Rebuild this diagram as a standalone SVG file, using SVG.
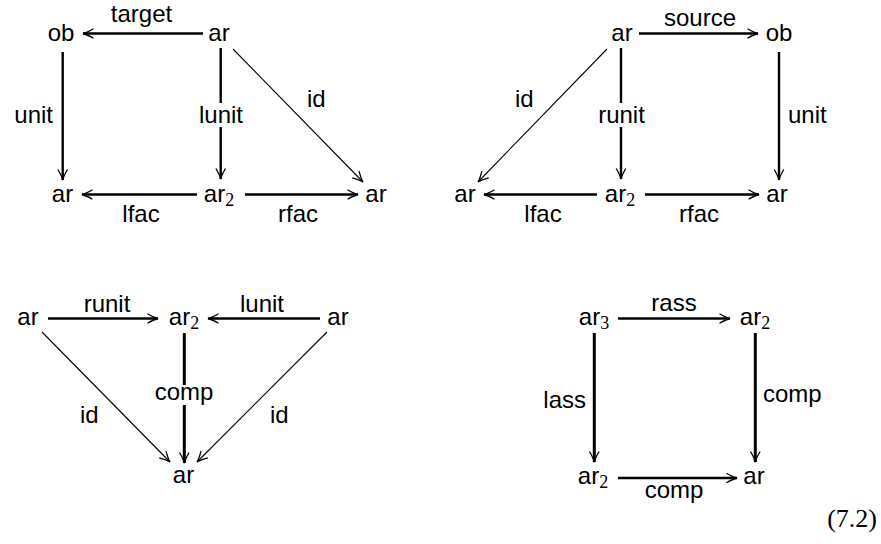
<svg xmlns="http://www.w3.org/2000/svg" width="881" height="544" viewBox="0 0 881 544">
<style>
  .t { font-family: "Liberation Sans", Arial, sans-serif; font-size: 24px; fill: #000; }
  .m { text-anchor: middle; }
  .e { text-anchor: end; }
  .sub { font-family: "Liberation Serif", "Times New Roman", serif; font-size: 18px; }
  .eq { font-family: "Liberation Serif", "Times New Roman", serif; font-size: 26px; fill: #000; text-anchor: end; }
  .h { stroke: #000; stroke-width: 2.4; fill: none; }
  .v { stroke: #000; stroke-width: 2.4; fill: none; }
  .vb { stroke: #000; stroke-width: 3; fill: none; }
  .d { stroke: #000; stroke-width: 1.1; fill: none; }
  .arr { marker-end: url(#ah); }
</style>
<defs>
  <marker id="ah" markerUnits="userSpaceOnUse" markerWidth="14" markerHeight="12" viewBox="-12 -6 14 12" refX="0" refY="0" orient="auto" overflow="visible">
    <path d="M-10.5,-4.8 Q-4,-1 0,0 Q-4,1 -10.5,4.8" fill="none" stroke="#000" stroke-width="1.3"/>
  </marker>
</defs>
<rect width="881" height="544" fill="#fff"/>

<g id="connectors">
  <!-- diagram 1 -->
  <line class="h arr" x1="203" y1="33.5" x2="83" y2="33.5"/>
  <line class="v arr" x1="62.7" y1="52" x2="62.7" y2="180"/>
  <line class="v" x1="220.7" y1="48" x2="220.7" y2="103"/>
  <line class="v arr" x1="220.7" y1="127" x2="220.7" y2="179"/>
  <line class="d arr" x1="233" y1="49" x2="363" y2="182"/>
  <line class="h arr" x1="197" y1="194.5" x2="82" y2="194.5"/>
  <line class="h arr" x1="245" y1="194.5" x2="358" y2="194.5"/>
  <!-- diagram 2 -->
  <line class="h arr" x1="639" y1="33.5" x2="758" y2="33.5"/>
  <line class="d arr" x1="607" y1="49" x2="478" y2="182"/>
  <line class="v" x1="621" y1="48" x2="621" y2="103"/>
  <line class="v arr" x1="621" y1="127" x2="621" y2="179"/>
  <line class="v arr" x1="779" y1="52" x2="779" y2="180"/>
  <line class="h arr" x1="597" y1="194.5" x2="484" y2="194.5"/>
  <line class="h arr" x1="645" y1="194.5" x2="759" y2="194.5"/>
  <!-- diagram 3 -->
  <line class="h arr" x1="48" y1="318.5" x2="158" y2="318.5"/>
  <line class="h arr" x1="320" y1="318.5" x2="208" y2="318.5"/>
  <line class="vb" x1="184.3" y1="333" x2="184.3" y2="385"/>
  <line class="vb arr" x1="184.3" y1="405" x2="184.3" y2="463"/>
  <line class="d arr" x1="42" y1="332" x2="170" y2="462"/>
  <line class="d arr" x1="327" y1="332" x2="197" y2="462"/>
  <!-- diagram 4 -->
  <line class="h arr" x1="618" y1="318.5" x2="730" y2="318.5"/>
  <line class="vb arr" x1="594.3" y1="333" x2="594.3" y2="462"/>
  <line class="vb arr" x1="755.3" y1="333" x2="755.3" y2="462"/>
  <line class="h arr" x1="618" y1="478" x2="737" y2="478"/>
</g>

<g id="edge-labels">
  <text class="t m" x="141.5" y="22">target</text>
  <text class="t e" x="53" y="123">unit</text>
  <text class="t m" x="221" y="123">lunit</text>
  <text class="t" x="307" y="107">id</text>
  <text class="t m" x="141" y="222">lfac</text>
  <text class="t m" x="298" y="222">rfac</text>

  <text class="t m" x="700" y="26">source</text>
  <text class="t" x="515" y="107">id</text>
  <text class="t m" x="621.5" y="123">runit</text>
  <text class="t" x="788" y="123">unit</text>
  <text class="t m" x="543" y="222">lfac</text>
  <text class="t m" x="699" y="222">rfac</text>

  <text class="t m" x="107" y="312">runit</text>
  <text class="t m" x="262" y="312">lunit</text>
  <text class="t m" x="184" y="400">comp</text>
  <text class="t" x="80" y="423">id</text>
  <text class="t" x="270" y="423">id</text>

  <text class="t m" x="674" y="311">rass</text>
  <text class="t e" x="586" y="408">lass</text>
  <text class="t" x="763" y="402">comp</text>
  <text class="t m" x="674" y="498">comp</text>
</g>

<g id="d1-ob"><text class="t m" x="61" y="41">ob</text></g>
<g id="d1-ar-top"><text class="t m" x="219" y="41">ar</text></g>
<g id="d1-ar-left"><text class="t m" x="62.5" y="202">ar</text></g>
<g id="d1-ar2"><text class="t m" x="219" y="202">ar<tspan class="sub" dy="4">2</tspan></text></g>
<g id="d1-ar-right"><text class="t m" x="376" y="202">ar</text></g>

<g id="d2-ar-top"><text class="t m" x="622" y="41">ar</text></g>
<g id="d2-ob"><text class="t m" x="779" y="41">ob</text></g>
<g id="d2-ar-left"><text class="t m" x="465" y="202">ar</text></g>
<g id="d2-ar2"><text class="t m" x="620" y="202">ar<tspan class="sub" dy="4">2</tspan></text></g>
<g id="d2-ar-right"><text class="t m" x="777" y="202">ar</text></g>

<g id="d3-ar-left"><text class="t m" x="28" y="325">ar</text></g>
<g id="d3-ar2"><text class="t m" x="184" y="325">ar<tspan class="sub" dy="4">2</tspan></text></g>
<g id="d3-ar-right"><text class="t m" x="338" y="325">ar</text></g>
<g id="d3-ar-bottom"><text class="t m" x="183.5" y="483">ar</text></g>

<g id="d4-ar3"><text class="t m" x="594" y="325">ar<tspan class="sub" dy="4">3</tspan></text></g>
<g id="d4-ar2-top"><text class="t m" x="755" y="325">ar<tspan class="sub" dy="4">2</tspan></text></g>
<g id="d4-ar2-bottom"><text class="t m" x="593" y="484">ar<tspan class="sub" dy="4">2</tspan></text></g>
<g id="d4-ar"><text class="t m" x="754" y="484">ar</text></g>

<g id="equation-number"><text class="eq" x="877" y="527">(7.2)</text></g>
</svg>
